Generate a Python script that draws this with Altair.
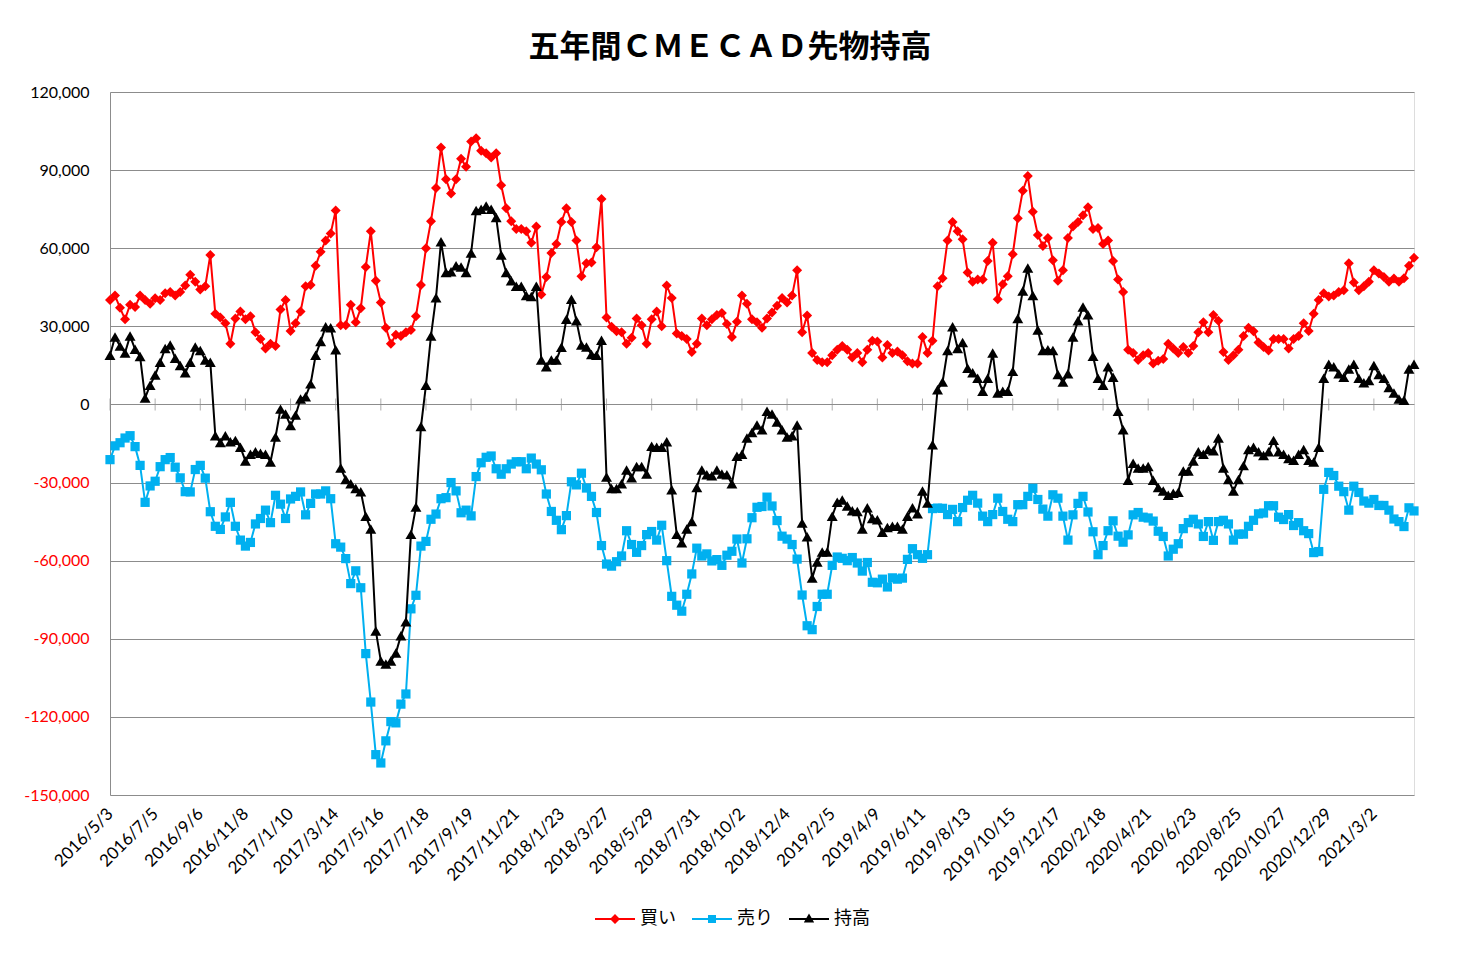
import altair as alt
import pandas as pd

TITLE = "五年間ＣＭＥＣＡＤ先物持高"
SERIES = ["買い", "売り", "持高"]
COLORS = ["#FF0000", "#00B0F0", "#000000"]
SHAPES = ["diamond", "square", "triangle-up"]
MARKER_SIZES = [100, 85, 120]
GRID = "#8C8C8C"

# legend symbols: short line with the marker in the middle ([-1, 1] box)
LEGEND_PATHS = [
    "M-1,-0.05H1V0.05H-1Z M0,-0.25L0.25,0L0,0.25L-0.25,0Z",
    "M-1,-0.05H1V0.05H-1Z M-0.2,-0.2H0.2V0.2H-0.2Z",
    "M-1,-0.05H1V0.05H-1Z M0,-0.27L0.26,0.18H-0.26Z",
]

START_DATE = "2016-05-03"
N_WEEKS = 261

TICK_LABELS = [
    "2016/5/3", "2016/7/5", "2016/9/6", "2016/11/8", "2017/1/10", "2017/3/14",
    "2017/5/16", "2017/7/18", "2017/9/19", "2017/11/21", "2018/1/23", "2018/3/27",
    "2018/5/29", "2018/7/31", "2018/10/2", "2018/12/4", "2019/2/5", "2019/4/9",
    "2019/6/11", "2019/8/13", "2019/10/15", "2019/12/17", "2020/2/18", "2020/4/21",
    "2020/6/23", "2020/8/25", "2020/10/27", "2020/12/29", "2021/3/2",
]
Y_TICKS = [-150000, -120000, -90000, -60000, -30000, 0, 30000, 60000, 90000, 120000]

# values in thousands of contracts
LONG = [
    40.1, 41.8, 37.1, 32.7, 38.3, 37.4, 41.8, 40.1, 38.7, 40.8,
    40.1, 42.7, 43.2, 41.8, 43.2, 45.7, 49.8, 47.1, 44.1, 45.4,
    57.4, 34.8, 33.4, 31.2, 23.3, 33.0, 35.7, 32.7, 33.9, 27.7,
    25.1, 21.5, 23.3, 22.4, 36.5, 40.1, 28.2, 31.2, 35.7, 45.4,
    45.9, 53.3, 58.6, 63.0, 65.7, 74.5, 30.4, 30.4, 38.3, 31.6,
    36.9, 52.8, 66.5, 47.5, 39.2, 29.5, 23.3, 26.8, 26.3, 27.7,
    28.6, 33.9, 45.9, 60.0, 70.4, 83.1, 98.7, 86.5, 81.0, 86.5,
    94.4, 91.3, 101.0, 102.2, 97.4, 96.5, 94.8, 96.5, 84.2, 75.4,
    70.4, 67.4, 67.4, 66.5, 62.1, 68.3, 42.2, 48.9, 58.2, 61.6,
    70.1, 75.4, 70.1, 63.0, 49.2, 54.2, 54.5, 60.4, 78.9, 33.4,
    29.8, 28.1, 27.7, 23.3, 25.6, 33.0, 30.4, 23.3, 32.7, 35.7,
    30.0, 45.7, 40.9, 27.2, 26.3, 25.1, 20.1, 23.3, 33.0, 30.4,
    32.7, 34.4, 35.1, 30.9, 25.9, 31.8, 41.8, 38.7, 32.7, 31.6,
    29.5, 33.0, 35.3, 37.9, 40.9, 39.2, 41.8, 51.5, 27.7, 34.2,
    19.8, 17.1, 16.2, 16.2, 18.9, 21.0, 22.4, 21.0, 18.0, 19.8,
    16.2, 21.0, 24.5, 24.2, 18.0, 22.8, 19.8, 20.3, 18.9, 16.6,
    15.7, 15.7, 25.9, 19.8, 24.5, 45.4, 48.5, 63.0, 70.1, 66.5,
    63.4, 50.7, 47.1, 48.0, 48.0, 55.1, 62.1, 40.4, 46.2, 49.2,
    57.7, 71.5, 82.1, 87.7, 74.0, 65.1, 60.9, 63.9, 55.4, 47.5,
    51.5, 63.9, 68.3, 70.1, 72.7, 75.7, 67.4, 67.8, 61.6, 63.0,
    55.1, 48.0, 43.2, 21.0, 19.8, 17.1, 18.9, 19.8, 15.7, 16.8,
    17.5, 23.3, 21.5, 19.8, 22.1, 19.8, 22.4, 27.7, 31.6, 27.7,
    34.4, 32.1, 20.1, 17.1, 18.9, 21.0, 26.3, 29.5, 28.1, 23.8,
    22.1, 20.7, 25.1, 25.1, 25.1, 21.5, 25.1, 26.3, 31.2, 28.2,
    34.8, 40.1, 42.7, 41.5, 41.8, 43.2, 43.9, 54.2, 46.8, 43.9,
    45.4, 47.1, 51.5, 50.3, 48.9, 47.1, 48.4, 47.1, 48.5, 53.3,
    56.3,
]

SHORT = [
    -21.2, -15.9, -14.7, -12.9, -12.0, -16.2, -23.4, -37.6, -31.3, -29.5,
    -23.9, -21.2, -20.4, -24.1, -28.2, -33.5, -33.6, -25.0, -23.4, -28.3,
    -41.2, -46.8, -48.0, -43.2, -37.6, -46.8, -52.1, -54.4, -53.0, -45.9,
    -43.8, -40.6, -45.4, -34.9, -38.3, -43.8, -36.3, -35.3, -33.6, -42.4,
    -38.0, -34.4, -34.4, -33.2, -36.2, -53.5, -54.8, -59.2, -68.8, -63.9,
    -70.4, -95.7, -114.3, -134.5, -137.7, -129.2, -121.8, -122.3, -115.1, -111.2,
    -78.5, -73.3, -54.4, -52.6, -44.1, -42.1, -36.2, -35.8, -30.0, -33.2,
    -41.6, -40.6, -42.8, -27.7, -22.4, -20.3, -19.8, -24.7, -26.8, -24.7,
    -22.9, -22.0, -22.0, -24.7, -20.6, -22.9, -25.1, -34.4, -41.1, -44.5,
    -48.1, -42.7, -29.7, -30.9, -26.4, -32.1, -35.3, -41.5, -54.2, -61.3,
    -62.1, -60.4, -58.2, -48.5, -53.8, -56.8, -54.2, -50.0, -48.8, -52.1,
    -46.4, -60.0, -73.7, -77.1, -79.4, -72.9, -65.1, -55.2, -58.2, -57.4,
    -60.1, -59.6, -61.8, -57.9, -56.4, -51.7, -60.9, -51.6, -43.5, -39.5,
    -39.2, -35.6, -39.0, -44.6, -50.6, -51.7, -53.8, -59.4, -73.2, -85.0,
    -86.5, -77.6, -72.9, -72.9, -61.8, -58.6, -59.1, -60.0, -58.8, -60.9,
    -64.0, -60.7, -68.3, -68.5, -67.1, -70.1, -66.6, -67.1, -66.7, -59.5,
    -55.4, -57.7, -59.1, -57.7, -40.0, -39.8, -39.9, -42.3, -40.3, -45.0,
    -39.6, -36.8, -34.9, -37.9, -42.9, -45.0, -42.3, -36.0, -41.1, -44.1,
    -45.0, -38.5, -38.5, -35.3, -32.2, -36.5, -40.2, -42.9, -34.7, -36.0,
    -42.9, -52.1, -42.4, -38.0, -35.3, -41.3, -48.9, -57.7, -54.2, -48.5,
    -44.7, -50.6, -52.9, -50.1, -42.4, -41.5, -43.3, -43.6, -44.8, -48.7,
    -50.7, -58.2, -55.6, -53.5, -47.7, -45.4, -44.1, -45.9, -50.7, -45.0,
    -52.2, -45.0, -44.5, -45.9, -52.1, -49.8, -49.8, -46.8, -44.5, -42.0,
    -41.7, -38.9, -38.9, -43.3, -44.2, -42.3, -46.5, -45.4, -48.5, -49.6,
    -56.9, -56.5, -32.6, -26.1, -27.3, -31.4, -33.5, -40.6, -31.4, -33.8,
    -37.1, -37.9, -36.5, -38.8, -38.8, -40.6, -44.0, -45.0, -46.9, -39.7,
    -40.9,
]

NET = [
    18.9, 25.9, 22.4, 19.8, 26.3, 21.2, 18.4, 2.5, 7.4, 11.3,
    16.2, 21.5, 22.8, 17.7, 15.0, 12.2, 16.2, 22.1, 20.7, 17.1,
    16.2, -12.0, -14.6, -12.0, -14.3, -13.8, -16.4, -21.7, -19.1, -18.2,
    -18.7, -19.1, -22.1, -12.5, -1.8, -3.7, -8.1, -4.1, 2.1, 3.0,
    7.9, 18.9, 24.2, 29.8, 29.5, 21.0, -24.4, -28.8, -30.5, -32.3,
    -33.5, -42.9, -47.8, -87.0, -98.5, -99.7, -98.5, -95.5, -88.8, -83.5,
    -49.9, -39.4, -8.5, 7.4, 26.3, 41.0, 62.5, 50.7, 51.0, 53.3,
    52.8, 50.7, 58.2, 74.5, 75.0, 76.2, 75.0, 71.8, 57.4, 50.7,
    47.5, 45.4, 45.4, 41.8, 41.5, 45.4, 17.1, 14.5, 17.1, 17.1,
    22.0, 32.7, 40.4, 32.1, 22.8, 22.1, 19.2, 18.9, 24.7, -27.9,
    -32.3, -32.3, -30.5, -25.2, -28.2, -23.8, -23.8, -26.7, -16.1, -16.4,
    -16.4, -14.3, -32.8, -49.9, -53.1, -47.8, -45.0, -31.9, -25.2, -27.0,
    -27.4, -25.2, -26.7, -27.0, -30.5, -19.9, -19.1, -12.9, -10.8, -7.9,
    -9.7, -2.6, -3.7, -6.7, -9.7, -12.5, -12.0, -7.9, -45.5, -50.8,
    -66.7, -60.5, -56.7, -56.7, -42.9, -37.6, -36.7, -39.0, -40.8, -41.1,
    -47.8, -39.7, -43.8, -44.3, -49.1, -47.3, -46.8, -46.8, -47.8, -42.9,
    -39.7, -42.0, -33.2, -37.9, -15.5, 5.6, 8.6, 20.7, 29.8, 21.5,
    23.8, 13.9, 12.2, 10.1, 5.1, 10.1, 19.8, 4.4, 5.1, 5.1,
    12.7, 33.0, 43.6, 52.4, 41.8, 28.6, 20.7, 21.0, 20.7, 11.5,
    8.6, 11.8, 25.9, 32.1, 37.4, 34.4, 18.5, 10.1, 7.4, 14.5,
    10.4, -2.6, -9.7, -29.1, -22.6, -24.4, -24.4, -23.8, -29.1, -31.9,
    -33.2, -34.9, -34.1, -33.7, -25.6, -25.6, -21.7, -18.2, -19.1, -17.3,
    -17.8, -12.9, -24.4, -28.8, -33.2, -28.8, -23.5, -17.3, -16.4, -18.2,
    -19.6, -18.2, -13.8, -18.2, -19.1, -20.8, -21.4, -19.1, -17.3, -21.4,
    -22.1, -16.4, 10.1, 15.4, 14.5, 11.8, 10.4, 13.6, 15.4, 10.1,
    8.3, 9.2, 15.0, 11.5, 10.1, 6.5, 4.4, 2.1, 1.6, 13.6,
    15.4,
]

dates = pd.date_range(START_DATE, periods=N_WEEKS, freq="7D")
DATE_LABELS = [f"{d.year}/{d.month}/{d.day}" for d in dates]

rows = []
for name, vals in zip(SERIES, [LONG, SHORT, NET]):
    for lab, v in zip(DATE_LABELS, vals):
        rows.append({"date": lab, "series": name, "value": int(round(v * 1000))})
df = pd.DataFrame(rows)

tick_df = pd.DataFrame({"date": TICK_LABELS, "value": [0] * len(TICK_LABELS)})

x_axis = alt.Axis(
    values=TICK_LABELS, title=None, labelAngle=-45, labelAlign="right",
    labelBaseline="middle", labelFont="Lato", labelFontSize=17, labelColor="#000000",
    labelPadding=16, ticks=False, domain=False, grid=False, labelOverlap=False,
)
y_axis = alt.Axis(
    values=Y_TICKS, title=None, grid=True, gridColor=GRID, gridWidth=1,
    domain=True, domainColor=GRID, domainWidth=1, ticks=False, labelPadding=21,
    labelFont="Lato", labelFontSize=16,
    labelColor={"condition": {"test": "datum.value < 0", "value": "#FF0000"}, "value": "#000000"},
    labelExpr="replace(format(datum.value, ','), '\u2212', '-')",
)

x_enc = alt.X("date:N", sort=DATE_LABELS, scale=alt.Scale(type="point", padding=0), axis=x_axis)
y_enc = alt.Y("value:Q", scale=alt.Scale(domain=[-150000, 120000], nice=False, zero=False), axis=y_axis)

layers = []
tick_layer = alt.Chart(tick_df).mark_tick(orient="vertical", size=12, thickness=1, color=GRID).encode(
    x=x_enc, y=y_enc
)
layers.append(tick_layer)

for name, col, shp, sz in zip(SERIES, COLORS, SHAPES, MARKER_SIZES):
    base = alt.Chart(df).transform_filter(alt.datum.series == name)
    layers.append(base.mark_line(color=col, strokeWidth=2).encode(x=x_enc, y=y_enc))
    layers.append(
        base.mark_point(shape=shp, filled=True, size=sz, color=col, opacity=1).encode(x=x_enc, y=y_enc)
    )

leg = alt.Legend(
    title=None, orient="none", legendX=485, legendY=807, direction="horizontal",
    symbolSize=1600, labelFont="Noto Sans CJK JP", labelFontSize=18, labelColor="#000000",
    labelOffset=5, columnPadding=16, symbolStrokeWidth=0,
)
legend_layer = alt.Chart(df).transform_filter("false").mark_point(filled=True, size=1600, opacity=1).encode(
    color=alt.Color("series:N", scale=alt.Scale(domain=SERIES, range=COLORS), legend=leg),
    shape=alt.Shape("series:N", scale=alt.Scale(domain=SERIES, range=LEGEND_PATHS), legend=leg),
)
layers.append(legend_layer)

chart = alt.layer(*layers).properties(
    width=1304,
    height=703,
    title=alt.TitleParams(
        TITLE, font="Noto Sans CJK JP", fontSize=31, fontWeight="bold", color="#000000",
        anchor="middle", frame="group", dx=-32, offset=20,
    ),
    padding={"left": 102, "top": 84, "right": 38, "bottom": 157},
    autosize=alt.AutoSizeParams(type="none"),
).configure_view(stroke=None).configure(background="white")

chart.save("out.html", embed_options={"renderer": "svg", "actions": False})
